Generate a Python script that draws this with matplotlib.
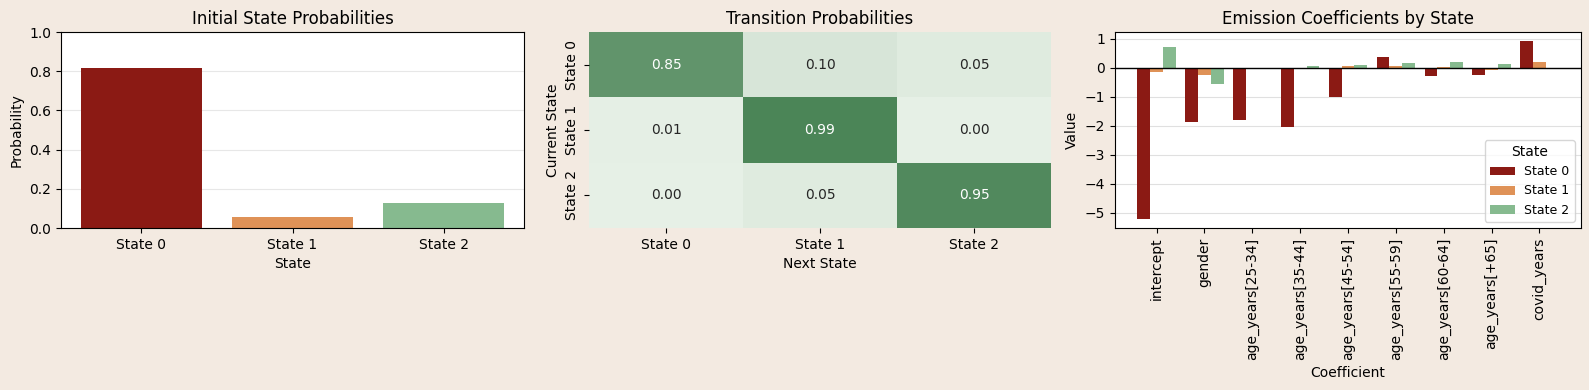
import numpy as np
import matplotlib
matplotlib.use("Agg")
import matplotlib.pyplot as plt
import seaborn as sns
from matplotlib.colors import LinearSegmentedColormap

states = ["State 0", "State 1", "State 2"]
start_prob = [0.815, 0.057, 0.13]
trans = [[0.85, 0.10, 0.05],
         [0.01, 0.99, 0.00],
         [0.00, 0.05, 0.95]]
coef_names = ["intercept", "gender", "age_years[25-34]", "age_years[35-44]",
              "age_years[45-54]", "age_years[55-59]", "age_years[60-64]",
              "age_years[+65]", "covid_years"]
coef_s0 = [-5.21, -1.88, -1.81, -2.05, -1.02, 0.38, -0.29, -0.26, 0.94]
coef_s1 = [-0.15, -0.25, -0.04, 0.0, 0.07, 0.07, 0.03, -0.08, 0.21]
coef_s2 = [0.73, -0.57, 0.0, 0.07, 0.11, 0.18, 0.21, 0.14, 0.0]

colors = ["#8b1a14", "#df9257", "#86ba8f"]
bg = "#f3eae1"

fig = plt.figure(figsize=(15.89, 3.9), facecolor=bg)

def pos(x0, x1, y0=32, y1=228):
    return [x0 / 1589, 1 - y1 / 390, (x1 - x0) / 1589, (y1 - y0) / 390]

ax0 = fig.add_axes(pos(61, 524))
ax1 = fig.add_axes(pos(589, 1051))
ax2 = fig.add_axes(pos(1115, 1581))

# initial probabilities
ax = ax0
ax.bar(states, start_prob, color=colors, width=0.8, zorder=2)
ax.set_ylim(0, 1)
ax.set_xlim(-0.53, 2.53)
ax.set_title("Initial State Probabilities", fontsize=12)
ax.set_xlabel("State")
ax.set_ylabel("Probability")
ax.grid(axis="y", color="#d0d0d0", alpha=0.5, zorder=3)

# transitions
ax = ax1
cmap = LinearSegmentedColormap.from_list("g", ["#e6f0e6", "#4a8456"])
sns.heatmap(np.array(trans), annot=True, fmt=".2f", cmap=cmap, cbar=False,
            xticklabels=states, yticklabels=states, ax=ax, vmin=0, vmax=1)
ax.set_title("Transition Probabilities", fontsize=12)
ax.set_xlabel("Next State")
ax.set_ylabel("Current State")

# emission coefficients
ax = ax2
x = np.arange(len(coef_names))
w = 0.8 / 3
for i, (vals, name) in enumerate(zip([coef_s0, coef_s1, coef_s2], states)):
    ax.bar(x + (i - 1) * w, vals, width=w, color=colors[i], label=name, zorder=2)
ax.axhline(0, color="black", linewidth=1, zorder=3)
ax.set_xticks(x)
ax.set_xticklabels(coef_names, rotation=90)
ax.set_xlim(-0.87, len(coef_names) - 0.13)
ax.set_ylim(-5.53, 1.24)
ax.set_yticks(range(-5, 2))
ax.set_title("Emission Coefficients by State", fontsize=12)
ax.set_xlabel("Coefficient")
ax.set_ylabel("Value")
ax.grid(axis="y", color="#e0e0e0", zorder=0)
ax.set_axisbelow(True)
ax.legend(title="State", loc="lower right", fontsize=9)

plt.savefig("out.png", dpi=100, facecolor=bg)
